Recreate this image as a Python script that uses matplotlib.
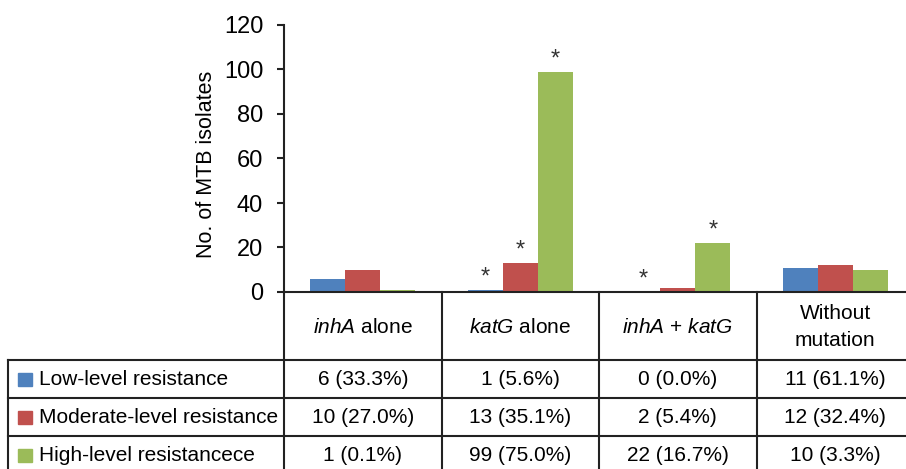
import numpy as np
import matplotlib
matplotlib.use("Agg")
import matplotlib.pyplot as plt
from matplotlib.patches import Rectangle
from matplotlib.transforms import blended_transform_factory

plt.rcParams['font.family'] = ['Liberation Sans', 'DejaVu Sans']
plt.rcParams['mathtext.fontset'] = 'custom'
plt.rcParams['mathtext.rm'] = 'Liberation Sans'
plt.rcParams['mathtext.it'] = 'Liberation Sans:italic'

# data
groups = [r'$\mathit{inhA}$ alone', r'$\mathit{katG}$ alone',
          r'$\mathit{inhA}$ + $\mathit{katG}$', 'Without\nmutation']
series = ['Low-level resistance', 'Moderate-level resistance', 'High-level resistancece']
low = [6, 1, 0, 11]
low_pct = [33.3, 5.6, 0.0, 61.1]
moderate = [10, 13, 2, 12]
moderate_pct = [27.0, 35.1, 5.4, 32.4]
high = [1, 99, 22, 10]
high_pct = [0.1, 75.0, 16.7, 3.3]
# significance stars
low_sig = [False, True, True, False]
moderate_sig = [False, True, False, False]
high_sig = [False, True, True, False]

colors = ['#4F81BD', '#C0504D', '#9BBB59']
values = [low, moderate, high]
pcts = [low_pct, moderate_pct, high_pct]
sigs = [low_sig, moderate_sig, high_sig]

W, H = 906, 469
fig = plt.figure(figsize=(W / 100, H / 100), dpi=100)

# chart area (pixels)
x0, y_base, y_top = 284, 292, 25
gw = 157.5  # group width in px
ax = fig.add_axes([x0 / W, (H - y_base) / H, (W - x0) / W, (y_base - y_top) / H])

x = np.arange(len(groups))
bw = 35 / gw
for k in range(3):
    ax.bar(x + (k - 1) * bw, values[k], bw, color=colors[k], zorder=2)
    for i in range(len(groups)):
        if sigs[k][i]:
            ax.annotate('*', (x[i] + (k - 1) * bw, values[k][i]), xytext=(0, 1),
                        textcoords='offset points', ha='center', va='bottom',
                        fontsize=17, color='#333333')

ax.set_xlim(-0.5, -0.5 + (W - x0) / gw)
ax.set_ylim(0, 120)
ax.set_yticks(range(0, 121, 20))
ax.set_xticks([])
for s in ['top', 'right']:
    ax.spines[s].set_visible(False)
for s in ['left', 'bottom']:
    ax.spines[s].set_linewidth(1.5)
    ax.spines[s].set_color('#222222')
ax.tick_params(axis='y', length=5, width=1.5, pad=10, labelsize=17, color='#222222')
ax.set_ylabel('No. of MTB isolates', fontsize=15.5)
ax.yaxis.set_label_coords((217 - x0) / (W - x0), (y_base - 164) / (y_base - y_top))

# table below the chart
trans = blended_transform_factory(ax.transData, ax.transAxes)
ah = y_base - y_top


def fy(py):
    return (y_base - py) / ah


def fx(px):
    return -0.5 + (px - x0) / gw


lc = '#222222'
lw = 1.5
head_bot = 360
row_h = 38
rows_y = [head_bot + r * row_h for r in range(4)]
left = fx(8)
right = ax.get_xlim()[1]

for xb in np.arange(len(groups)) - 0.5:
    ax.plot([xb, xb], [0, fy(rows_y[-1] + 10)], color=lc, lw=lw, transform=trans, clip_on=False)
ax.plot([left, left], [fy(head_bot), fy(rows_y[-1] + 10)], color=lc, lw=lw,
        transform=trans, clip_on=False)
for ry in rows_y[:3]:
    ax.plot([left, right], [fy(ry), fy(ry)], color=lc, lw=lw, transform=trans, clip_on=False)

for i, g in enumerate(groups):
    ax.text(i, fy((y_base + head_bot) / 2 + 1), g, ha='center', va='center', fontsize=15,
            linespacing=1.5, transform=trans)

for k in range(3):
    yc = fy(rows_y[k] + row_h / 2)
    ax.add_patch(Rectangle((fx(18), yc - 6.5 / ah), 14 / gw, 13 / ah, color=colors[k],
                           transform=trans, clip_on=False))
    ax.text(fx(39), yc, series[k], ha='left', va='center', fontsize=15, transform=trans)
    for i in range(len(groups)):
        ax.text(i, yc, f'{values[k][i]} ({pcts[k][i]:.1f}%)', ha='center', va='center',
                fontsize=15, transform=trans)

fig.savefig('out.png', dpi=100)
